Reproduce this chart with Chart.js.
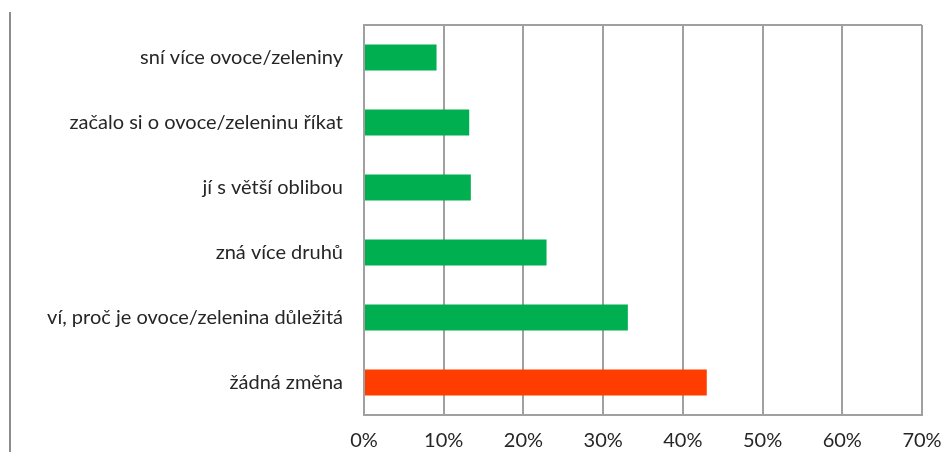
<!DOCTYPE html>
<html>
<head>
<meta charset="utf-8">
<script src="https://cdn.jsdelivr.net/npm/chart.js@4.4.1/dist/chart.umd.min.js"></script>
<style>
  html, body { margin: 0; padding: 0; background: #fff; }
  #wrap { position: relative; width: 944px; height: 452px; }
  #edge { position: absolute; left: 9px; top: 12px; width: 2px; height: 440px; background: #8c8c8c; }
</style>
</head>
<body>
<div id="wrap">
  <div id="edge"></div>
  <canvas id="chart" width="944" height="452"></canvas>
</div>
<script>
// answers, top to bottom
const categories = [
    'sní více ovoce/zeleniny',
    'začalo si o ovoce/zeleninu říkat',
    'jí s větší oblibou',
    'zná více druhů',
    'ví, proč je ovoce/zelenina důležitá',
    'žádná změna'
];
const shares = [9.1, 13.2, 13.4, 22.9, 33.1, 43.0];
const barColors = ['#00b050', '#00b050', '#00b050', '#00b050', '#00b050', '#ff3d00'];
const xTicks = [0, 10, 20, 30, 40, 50, 60, 70];

const gridGray = '#a0a0a0';
const labelFont = { family: 'Lato, "Open Sans", sans-serif', size: 20 };

new Chart(document.getElementById('chart').getContext('2d'), {
    type: 'bar',
    data: {
        labels: categories,
        datasets: [{
            data: shares,
            backgroundColor: barColors,
            borderWidth: 0,
            categoryPercentage: 0.8,
            barPercentage: 0.5
        }]
    },
    options: {
        indexAxis: 'y',
        responsive: false,
        animation: false,
        layout: { padding: { top: 25, right: 22, left: 0, bottom: 0 } },
        plugins: { legend: { display: false }, tooltip: { enabled: false } },
        scales: {
            x: {
                min: 0,
                max: 70,
                afterBuildTicks: (scale) => { scale.ticks = xTicks.map(v => ({ value: v })); },
                afterFit: (scale) => { scale.height = 37; scale.paddingLeft = 0; scale.paddingRight = 0; },
                grid: { color: gridGray, lineWidth: 2, drawTicks: false },
                border: { color: gridGray, width: 2 },
                ticks: {
                    padding: 14,
                    color: '#262626',
                    font: labelFont,
                    maxRotation: 0,
                    callback: (v) => v + '%'
                }
            },
            y: {
                afterFit: (scale) => { scale.width = 364; scale.paddingTop = 0; scale.paddingBottom = 0; },
                grid: {
                    offset: true,
                    drawTicks: false,
                    lineWidth: 2,
                    color: (ctx) => (ctx.index === 0 || ctx.index === categories.length) ? gridGray : 'rgba(0,0,0,0)'
                },
                border: { color: gridGray, width: 2 },
                ticks: {
                    padding: 21,
                    color: '#262626',
                    font: labelFont
                }
            }
        }
    }
});
</script>
</body>
</html>
